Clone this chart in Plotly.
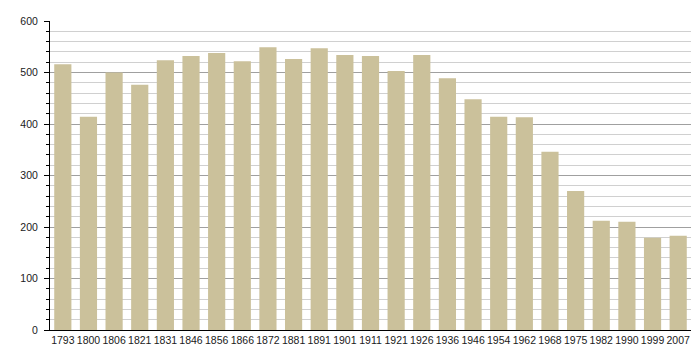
import plotly.graph_objects as go

years = ["1793", "1800", "1806", "1821", "1831", "1846", "1856", "1866", "1872", "1881",
         "1891", "1901", "1911", "1921", "1926", "1936", "1946", "1954", "1962", "1968",
         "1975", "1982", "1990", "1999", "2007"]
population = [516, 414, 500, 476, 524, 532, 538, 522, 549, 526,
              547, 534, 532, 503, 534, 489, 448, 414, 413, 346,
              270, 212, 210, 179, 183]

fig = go.Figure()
fig.add_trace(go.Bar(
    x=years, y=population,
    marker=dict(color="rgb(203,193,155)", line=dict(width=0)),
    hoverinfo="x+y",
))

# page body has an 8px default margin; compensate so the plot area sits as in the reference
fig.update_layout(
    width=684, height=344,
    margin=dict(l=42, r=1, t=13, b=22, autoexpand=False),
    paper_bgcolor="white", plot_bgcolor="white",
    bargap=0.33,
    showlegend=False,
    font=dict(family="Liberation Sans, Arial, sans-serif", size=10.5, color="#1a1a1a"),
)
fig.update_yaxes(
    range=[0, 600],
    tickvals=[0, 100, 200, 300, 400, 500, 600],
    showgrid=True, gridcolor="#a0a0a0", gridwidth=1,
    showline=True, linecolor="black", linewidth=1,
    ticks="outside", ticklen=5, tickcolor="black",
    minor=dict(dtick=20, showgrid=True, gridcolor="#d0d0d0", gridwidth=1,
               ticks="outside", ticklen=3, tickcolor="black"),
    zeroline=False,
    ticklabelstandoff=4,
)
fig.update_xaxes(
    showline=True, linecolor="black", linewidth=1,
    ticks="", showgrid=False,
    tickangle=0,
    tickfont=dict(size=10.5),
)

fig.write_html("out.html")
